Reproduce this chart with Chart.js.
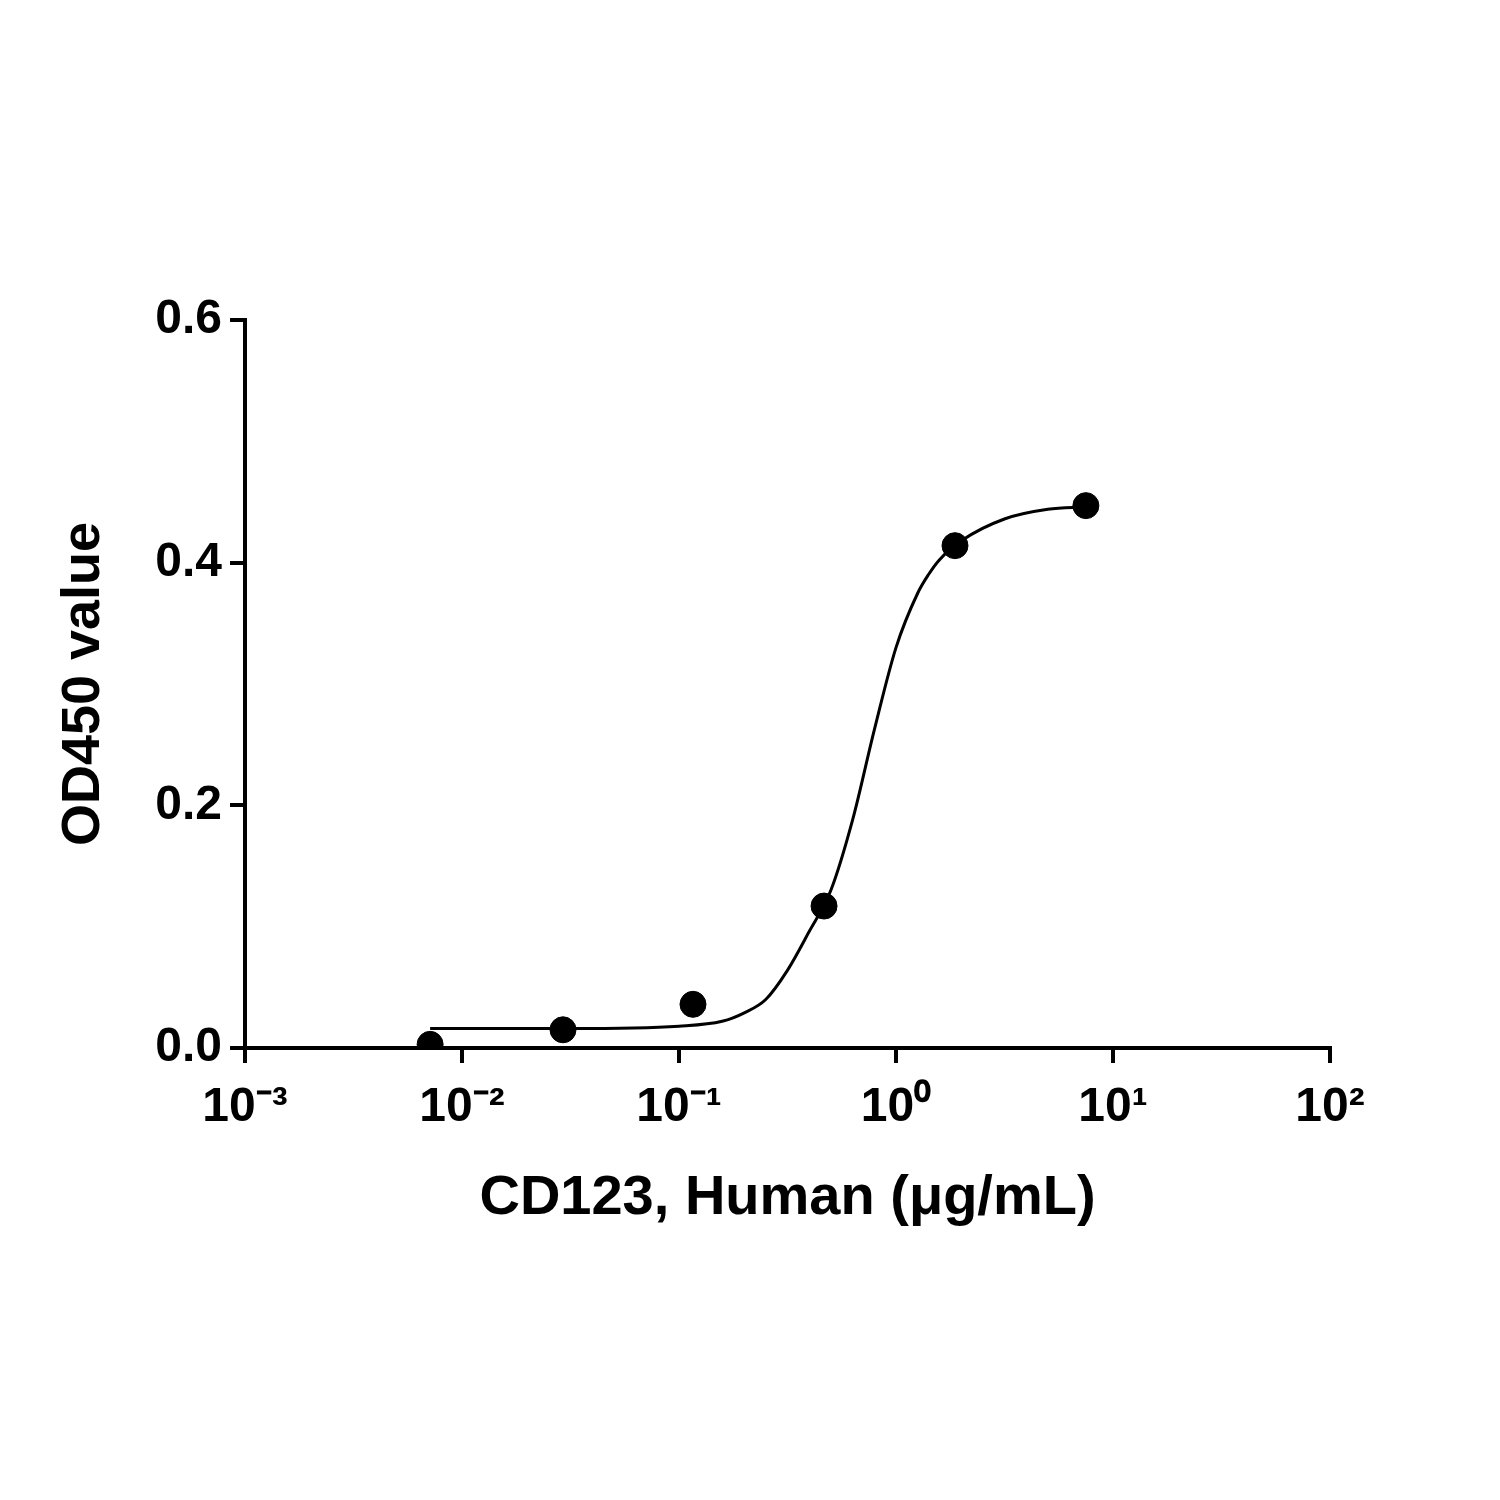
<!DOCTYPE html>
<html>
<head>
<meta charset="utf-8">
<script src="https://cdn.jsdelivr.net/npm/chart.js@4"></script>
<style>
  body { margin: 0; background: #fff; }
  #wrap { width: 1500px; height: 1500px; }
</style>
</head>
<body>
<div id="wrap"><canvas id="chart"></canvas></div>
<script>
// Données mesurées (points)
const concValues = [0.00713, 0.0292, 0.116, 0.466, 1.87, 7.5];
const odValues = [0.003, 0.015, 0.036, 0.117, 0.414, 0.447];

// Courbe ajustée
const curveConc = [0.00713, 0.0316, 0.1, 0.158, 0.2, 0.251, 0.316, 0.398, 0.501, 0.631, 0.794, 1.0, 1.26, 1.41, 1.58, 2.0, 3.16, 5.01, 7.5];
const curveOd = [0.016, 0.016, 0.018, 0.022, 0.029, 0.040, 0.064, 0.096, 0.13, 0.188, 0.262, 0.330, 0.375, 0.390, 0.402, 0.418, 0.436, 0.444, 0.446];

const xTicks = [0.001, 0.01, 0.1, 1, 10, 100];
const yTicks = [0.0, 0.2, 0.4, 0.6];

const sup = { '-': '⁻', '0': '⁰', '1': '¹', '2': '²', '3': '³' };
function powerLabel(v) {
    const e = Math.round(Math.log10(v)).toString();
    return '10' + e.split('').map(c => sup[c]).join('');
}

const font = { family: 'Liberation Sans, Arial, sans-serif', weight: 'bold', size: 48 };

new Chart(document.getElementById('chart'), {
    type: 'scatter',
    data: {
        datasets: [{
            data: curveConc.map((x, i) => ({ x: x, y: curveOd[i] })),
            showLine: true,
            borderColor: '#000',
            borderWidth: 3,
            pointRadius: 0,
            cubicInterpolationMode: 'monotone'
        }, {
            data: concValues.map((x, i) => ({ x: x, y: odValues[i] })),
            backgroundColor: '#000',
            borderColor: '#000',
            pointRadius: 13
        }]
    },
    options: {
        responsive: true,
        maintainAspectRatio: false,
        animation: false,
        layout: { padding: { top: 320, right: 170, bottom: 268, left: 0 } },
        plugins: { legend: { display: false }, tooltip: { enabled: false } },
        scales: {
            x: {
                type: 'logarithmic',
                min: 0.001,
                max: 100,
                afterBuildTicks: (axis) => { axis.ticks = xTicks.map(v => ({ value: v })); },
                afterFit: (axis) => { axis.height = 184; },
                border: { color: '#000', width: 4 },
                grid: { drawOnChartArea: false, drawTicks: true, tickLength: 15, lineWidth: 4, color: '#000' },
                ticks: { color: '#000', font: font, padding: 16, maxRotation: 0, callback: (v) => powerLabel(v) },
                title: { display: true, text: 'CD123, Human (μg/mL)', color: '#000', font: { ...font, size: 56 }, padding: 0 }
            },
            y: {
                min: 0,
                max: 0.6,
                afterBuildTicks: (axis) => { axis.ticks = yTicks.map(v => ({ value: v })); },
                afterFit: (axis) => { axis.width = 245; },
                border: { color: '#000', width: 4 },
                grid: { drawOnChartArea: false, drawTicks: true, tickLength: 15, lineWidth: 4, color: '#000' },
                ticks: { color: '#000', font: font, padding: 8, callback: (v) => v.toFixed(1) },
                title: { display: true, text: 'OD450 value', color: '#000', font: { ...font, size: 54 }, padding: { top: 52 } }
            }
        }
    }
});
</script>
</body>
</html>
